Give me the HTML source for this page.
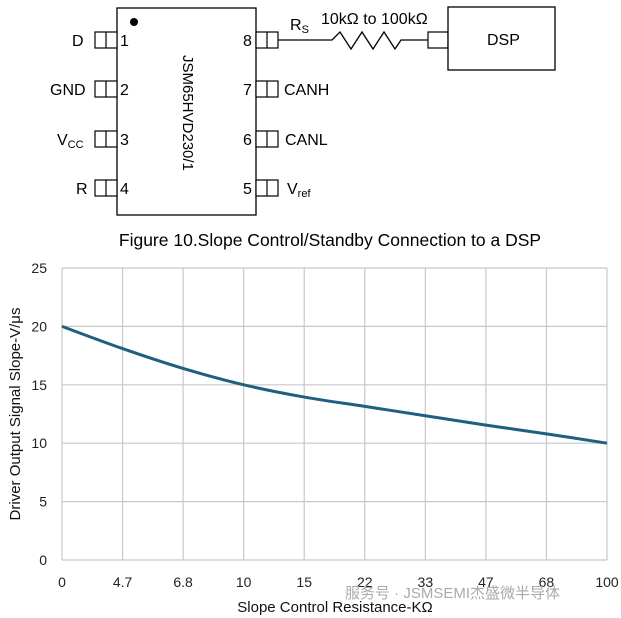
<!DOCTYPE html>
<html><head><meta charset="utf-8"><style>
body{margin:0;background:#fff;width:621px;height:618px;overflow:hidden;font-family:"Liberation Sans",sans-serif}
</style></head><body>
<svg width="621" height="618" viewBox="0 0 621 618" style="position:absolute;left:0;top:0">
<g font-family="Liberation Sans, sans-serif" font-size="16" fill="#000">
<rect x="117" y="8" width="139" height="207" fill="#fff" stroke="#000" stroke-width="1.3"/>
<circle cx="134" cy="22" r="4" fill="#000"/>
<text transform="translate(183,55) rotate(90)" font-size="15">JSM65HVD230/1</text>
<g stroke="#000" stroke-width="1.2" fill="#fff">
<rect x="95" y="32" width="22" height="16"/><line x1="106" y1="32" x2="106" y2="48"/>
<rect x="95" y="81" width="22" height="16"/><line x1="106" y1="81" x2="106" y2="97"/>
<rect x="95" y="131" width="22" height="16"/><line x1="106" y1="131" x2="106" y2="147"/>
<rect x="95" y="180" width="22" height="16"/><line x1="106" y1="180" x2="106" y2="196"/>
<rect x="256" y="32" width="22" height="16"/><line x1="267" y1="32" x2="267" y2="48"/>
<rect x="256" y="81" width="22" height="16"/><line x1="267" y1="81" x2="267" y2="97"/>
<rect x="256" y="131" width="22" height="16"/><line x1="267" y1="131" x2="267" y2="147"/>
<rect x="256" y="180" width="22" height="16"/><line x1="267" y1="180" x2="267" y2="196"/>
</g>
<text x="120" y="46">1</text><text x="120" y="95">2</text><text x="120" y="145">3</text><text x="120" y="194">4</text>
<text x="243" y="46">8</text><text x="243" y="95">7</text><text x="243" y="145">6</text><text x="243" y="194">5</text>
<text x="72" y="46">D</text><text x="50" y="95">GND</text><text x="57" y="145">V<tspan font-size="11" dy="3">CC</tspan></text><text x="76" y="194">R</text>
<text x="284" y="95">CANH</text><text x="285" y="145">CANL</text><text x="287" y="194">V<tspan font-size="11" dy="3">ref</tspan></text>
<text x="290" y="30">R<tspan font-size="11" dy="3">S</tspan></text>
<text x="321" y="24">10kΩ to 100kΩ</text>
<polyline points="278,40 332,40 340,32 351,49 362,32 373,49 384,32 395,49 401,40 428,40" fill="none" stroke="#000" stroke-width="1.3"/>
<rect x="428" y="32" width="20" height="16" fill="#fff" stroke="#000" stroke-width="1.2"/>
<rect x="448" y="7" width="107" height="63" fill="#fff" stroke="#000" stroke-width="1.3"/>
<text x="487" y="45">DSP</text>
<text x="330" y="246" text-anchor="middle" font-size="17.5">Figure 10.Slope Control/Standby Connection to a DSP</text>
</g>
<g id="chart" font-family="Liberation Sans, sans-serif"></g>
</svg>
<script>
const categories=["0","4.7","6.8","10","15","22","33","47","68","100"];
const slopeValues=[20,18.1,16.4,15,13.95,13.15,12.35,11.55,10.8,10];
const yTicks=[0,5,10,15,20,25];
const NS="http://www.w3.org/2000/svg";
const g=document.getElementById('chart');
const L=62,R=607,T=268,B=560,yMax=25;
const xs=i=>L+i*(R-L)/(categories.length-1);
const ys=v=>B-v/yMax*(B-T);
function mk(t,a){const e=document.createElementNS(NS,t);for(const k in a)e.setAttribute(k,a[k]);g.appendChild(e);return e;}
yTicks.forEach(v=>{
 const l=mk('line',{x1:L,x2:R,y1:ys(v),y2:ys(v),stroke:'#c8c8c8','stroke-width':1.2});
 
 
 const t=mk('text',{x:47,y:ys(v)+5,'text-anchor':'end','font-size':14,fill:'#222'});
 t.textContent=v;
 
 
});
categories.forEach((c,i)=>{
 const l=mk('line',{x1:xs(i),x2:xs(i),y1:T,y2:B,stroke:'#c8c8c8','stroke-width':1.2});
 
 
 const t=mk('text',{x:xs(i),y:587,'text-anchor':'middle','font-size':14,fill:'#222'});
 t.textContent=c;
 
 
});
let d='';
const pts=slopeValues.map((v,i)=>[xs(i),ys(v)]);
d='M'+pts[0][0]+','+pts[0][1];
for(let i=0;i<pts.length-1;i++){
 const p0=pts[Math.max(i-1,0)],p1=pts[i],p2=pts[i+1],p3=pts[Math.min(i+2,pts.length-1)];
 const c1=[p1[0]+(p2[0]-p0[0])/6,p1[1]+(p2[1]-p0[1])/6],c2=[p2[0]-(p3[0]-p1[0])/6,p2[1]-(p3[1]-p1[1])/6];
 d+=' C'+c1+' '+c2+' '+p2;
}
const path=mk('path',{d:d,fill:'none',stroke:'#1f5f7f','stroke-width':3});


const xt=mk('text',{x:335,y:612,'text-anchor':'middle','font-size':15,fill:'#111'});
xt.textContent='Slope Control Resistance-KΩ';


const yt=mk('text',{x:0,y:0,'text-anchor':'middle','font-size':15,fill:'#111',transform:'translate(20,414) rotate(-90)'});
yt.textContent='Driver Output Signal Slope-V/μs';


const wm=mk('text',{x:345,y:598,'font-size':15,fill:'#aaa','font-family':'Liberation Sans, Noto Sans CJK SC, sans-serif'});
wm.textContent='服务号 · JSMSEMI杰盛微半导体';


</script>
</body></html>
